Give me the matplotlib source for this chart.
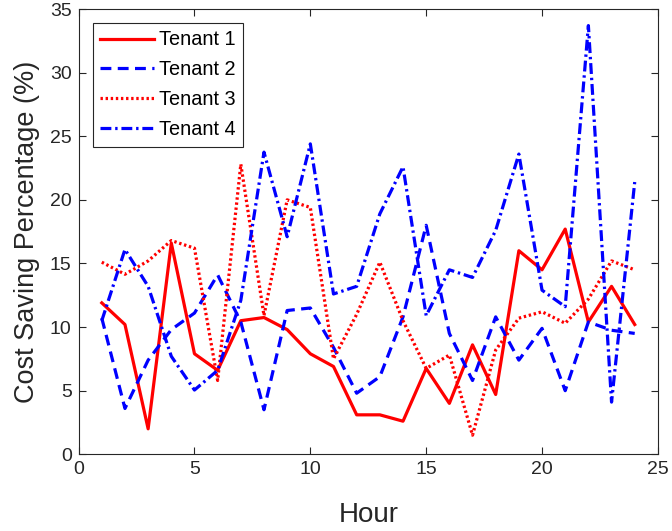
import matplotlib
matplotlib.use("Agg")
import matplotlib.pyplot as plt

plt.rcParams['font.family'] = ['Liberation Sans', 'DejaVu Sans']

hours = list(range(1, 25))

tenant1 = [11.9, 10.2, 2.0, 16.6, 7.9, 6.6, 10.5, 10.75, 9.8, 7.9, 6.9, 3.1,
           3.1, 2.6, 6.75, 4.0, 8.6, 4.7, 16.0, 14.5, 17.7, 10.4, 13.2, 10.2]
tenant2 = [10.7, 3.6, 7.4, 9.8, 11.1, 14.1, 10.4, 3.5, 11.3, 11.5, 8.4, 4.8,
           6.1, 10.8, 18.0, 9.5, 5.8, 10.8, 7.4, 9.9, 5.0, 10.4, 9.75, 9.5]
tenant3 = [15.1, 14.15, 15.2, 16.8, 16.2, 5.8, 22.8, 10.9, 20.0, 19.4, 7.5, 11.0,
           15.1, 10.5, 6.75, 7.8, 1.5, 8.2, 10.7, 11.2, 10.3, 12.2, 15.2, 14.5]
tenant4 = [10.5, 16.1, 13.2, 7.7, 5.05, 6.6, 12.1, 23.75, 17.1, 24.4, 12.6, 13.2,
           18.9, 22.6, 10.9, 14.5, 13.9, 17.6, 23.6, 12.9, 11.6, 33.7, 4.1, 21.4]

fig = plt.figure(figsize=(6.72, 5.31), dpi=100)
ax = fig.add_axes([0.117, 0.1445, 0.862, 0.8385])

lw = 2.3
ax.plot(hours, tenant1, color='red', lw=lw, linestyle='-', label='Tenant 1')
ax.plot(hours, tenant2, color='blue', lw=lw, linestyle=(0, (3.4, 2.0)), label='Tenant 2')
ax.plot(hours, tenant3, color='red', lw=lw, linestyle=(0, (0.75, 0.85)), label='Tenant 3')
ax.plot(hours, tenant4, color='blue', lw=lw, linestyle=(0, (3.4, 1.2, 0.75, 1.2)), label='Tenant 4')

ax.set_xlim(0, 25)
ax.set_ylim(0, 35)
ax.set_xticks(range(0, 26, 5))
ax.set_yticks(range(0, 36, 5))

axis_col = '#262626'
for s in ax.spines.values():
    s.set_color(axis_col)
    s.set_linewidth(0.8)
ax.tick_params(direction='in', top=True, right=True, length=5, width=0.8,
               color=axis_col, labelcolor=axis_col, labelsize=14, pad=5)

ax.set_xlabel('Hour', fontsize=20, color=axis_col, labelpad=17)
ax.set_ylabel('Cost Saving Percentage (%)', fontsize=19.5, color=axis_col, labelpad=7)

leg = ax.legend(loc='upper left', fontsize=14.3, handlelength=2.7, borderaxespad=0.7,
                fancybox=False, framealpha=1, edgecolor='#262626',
                labelspacing=0.55, handletextpad=0.25, borderpad=0.38)
leg.get_frame().set_linewidth(0.8)

fig.savefig('out.png', dpi=100)
